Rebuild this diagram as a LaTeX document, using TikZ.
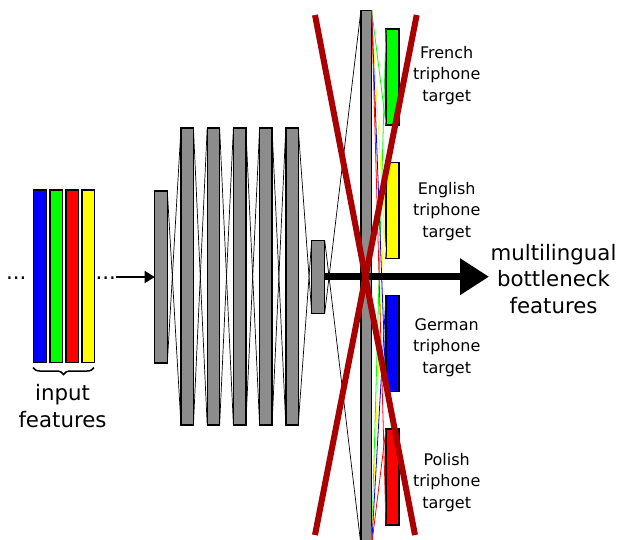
\documentclass[tikz,border=0pt]{standalone}
\usepackage{fontspec}
\setmainfont{DejaVu Sans}
\usetikzlibrary{arrows.meta,decorations.pathreplacing}
\definecolor{layergray}{RGB}{140,140,140}
\definecolor{xred}{RGB}{170,0,0}
\definecolor{fgreen}{RGB}{0,255,0}
\definecolor{fyellow}{RGB}{255,255,0}
\definecolor{fblue}{RGB}{0,0,255}
\definecolor{fred}{RGB}{255,0,0}
\tikzset{
  box/.style={draw=black,line width=1.4pt,inner sep=0pt,outer sep=0pt},
  layer/.style={box,fill=layergray,minimum width=12.4pt},
  feat/.style={box,minimum width=12.6pt,minimum height=172.5pt},
  target/.style={box,minimum width=13pt,minimum height=96pt},
  conn/.style={black,line width=0.7pt},
  fan/.style={line width=0.8pt},
  cross/.style={xred,line width=6pt},
  biglabel/.style={font=\fontsize{21.3}{26.5}\selectfont,align=center,anchor=base,inner sep=0pt},
  tlabel/.style={font=\fontsize{16}{21.5}\selectfont,align=center,anchor=base,inner sep=0pt},
  dots/.style={font=\fontsize{21.3}{26.5}\selectfont,anchor=base west,inner sep=0pt}
}
\begin{document}
\begin{tikzpicture}[x=1pt,y=-1pt]
\useasboundingbox (0,0) rectangle (620,539);
\clip (0,0) rectangle (620,539);
% input features
\node[feat,fill=fblue] (b1) at (40,276.4) {};
\node[feat,fill=fgreen] (b2) at (56.1,276.4) {};
\node[feat,fill=fred] (b3) at (72.2,276.4) {};
\node[feat,fill=fyellow] (b4) at (88.3,276.4) {};
\node[dots] (dl) at (6,279) {...};
\node[dots] (dr) at (95.5,279) {...};
\coordinate (brl) at (33,367.5);
\coordinate (brr) at (94,367.5);
\draw[line width=1.5pt,decorate,decoration={brace,mirror,amplitude=7pt}] (brl) -- (brr);
\node[biglabel] (inlab) at (62.5,427.2) {input\\features};
% layers
\node[layer,minimum width=12.6pt,minimum height=172pt] (l1) at (161,277) {};
\foreach \i/\x in {2/187.2,3/213.4,4/239.6,5/265.8,6/292.0}
  \node[layer,minimum height=297pt] (l\i) at (\x,276.5) {};
\node[layer,minimum width=13pt,minimum height=73pt] (l7) at (318.2,276.7) {};
\node[layer,minimum width=10.7pt,minimum height=535pt] (big) at (366.3,277.7) {};
\draw[-{Triangle[length=10pt,width=12pt]},line width=1.5pt] (dr.east |- l1.west) -- (l1.west);
% connections
\foreach \a/\b in {l1/l2,l2/l3,l3/l4,l4/l5,l5/l6,l6/l7,l7/big}{
  \draw[conn] (\a.north east) -- (\b.south west);
  \draw[conn] (\a.south east) -- (\b.north west);
}
% targets
\node[target,fill=fgreen] (tf) at (392.5,77) {};
\node[target,fill=fyellow] (te) at (392.5,210.3) {};
\node[target,fill=fblue] (tg) at (392.5,343.6) {};
\node[target,fill=fred] (tp) at (392.5,476.9) {};
\foreach \t/\c in {tf/fgreen,te/fyellow,tg/fblue,tp/fred}{
  \draw[fan,\c] (big.north east) -- (\t.south west);
  \draw[fan,\c] (big.south east) -- (\t.north west);
}
\node[tlabel] (lf) at (446.7,101) {French\\triphone\\target};
\node[tlabel] (le) at (446.7,237) {English\\triphone\\target};
\node[tlabel] (lg) at (446.7,373) {German\\triphone\\target};
\node[tlabel] (lp) at (446.7,508) {Polish\\triphone\\target};
% bottleneck arrow
\coordinate (tip) at (489,276.7);
\draw[line width=7pt,-{Triangle[length=29pt,width=35pt]}] (l7.east) -- (tip);
\node[biglabel] (ml) at (553.5,313) {multilingual\\bottleneck\\features};
% red cross
\coordinate (x1a) at (315,15);
\coordinate (x1b) at (415,535);
\coordinate (x2a) at (416.7,15);
\coordinate (x2b) at (315,535);
\draw[cross] (x1a) -- (x1b);
\draw[cross] (x2a) -- (x2b);
\end{tikzpicture}
\end{document}
